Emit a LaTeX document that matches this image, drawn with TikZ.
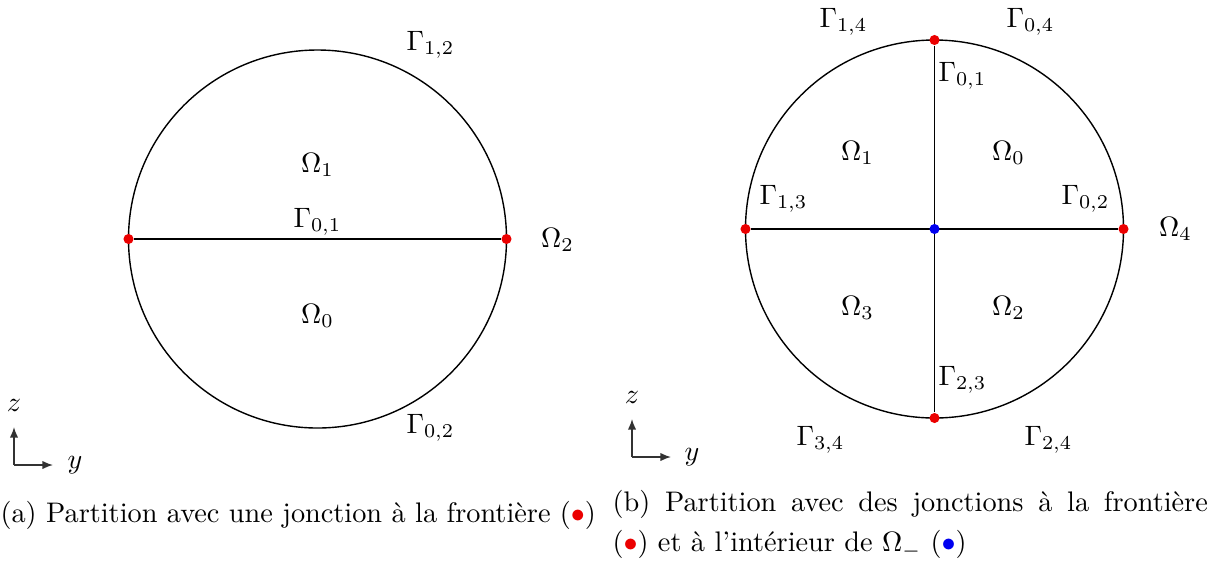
\documentclass[tikz,border=0pt]{standalone}
\usetikzlibrary{positioning, calc, arrows.meta}
\definecolor{junred}{RGB}{235,0,0}
\definecolor{junblue}{RGB}{0,0,240}
\definecolor{axgray}{RGB}{50,50,50}
\newcommand{\capfont}{\fontsize{10.1}{14.3}\selectfont\hyphenpenalty10000\relax}
\tikzset{
  bord/.style={draw=black, line width=0.5pt},
  jred/.style={circle, fill=junred, minimum size=3.6pt, inner sep=0pt},
  jblue/.style={circle, fill=junblue, minimum size=3.6pt, inner sep=0pt},
  lbl/.style={inner sep=1pt},
  axe/.style={axgray, line width=0.5pt, -{Latex[length=3.8pt, width=3pt]}},
  captxt/.style={font=\capfont, inner sep=0pt},
}
\newcommand{\RAY}{189}

\begin{document}
\begin{tikzpicture}[x=0.357pt, y=0.357pt]
\useasboundingbox (0,0) rectangle (1214,561);

% ============================================================ (a) one junction
\begin{scope}[shift={(317.5, 322)}]
  \coordinate (ca) at (0,0);
  \draw[bord] (ca) circle (\RAY);
  \node[jred] (pa1) at (-\RAY, 0) {};
  \node[jred] (pa2) at (\RAY, 0) {};
  \draw[bord] (pa1) -- (pa2);

  \node[lbl] (oa1) at (0, 74) {$\Omega_1$};
  \node[lbl] (ga01) at (0, 17) {$\Gamma_{0,1}$};
  \node[lbl] (oa0) at (0, -77) {$\Omega_0$};
  \node[lbl] (oa2) at (240, -1) {$\Omega_2$};
  \node[lbl] (ga12) at (113, 194) {$\Gamma_{1,2}$};
  \node[lbl] (ga02) at (113, -189) {$\Gamma_{0,2}$};
\end{scope}

% axes (a)
\coordinate (oxa) at (14, 96);
\coordinate (za) at (14, 134);
\coordinate (ya) at (53, 96);
\draw[axe] (oxa) -- (za);
\draw[axe] (oxa) -- (ya);
\node (lza) at (14, 156) {$z$};
\node (lya) at (75, 96) {$y$};

% ============================================================ (b) four sub-domains
\begin{scope}[shift={(934.5, 332)}]
  \coordinate (cb) at (0,0);
  \draw[bord] (cb) circle (\RAY);
  \node[jred] (pbw) at (-\RAY, 0) {};
  \node[jred] (pbe) at (\RAY, 0) {};
  \node[jred] (pbn) at (0, \RAY) {};
  \node[jred] (pbs) at (0, -\RAY) {};
  \draw[bord] (pbw) -- (pbe);
  \draw[bord] (pbn) -- (pbs);
  \node[jblue] (pbc) at (0,0) {};

  \node[lbl] (gb14) at (-91, 207) {$\Gamma_{1,4}$};
  \node[lbl] (gb04) at (96, 207) {$\Gamma_{0,4}$};
  \node[lbl] (gb01) at (28, 153) {$\Gamma_{0,1}$};
  \node[lbl] (ob1) at (-77, 76) {$\Omega_1$};
  \node[lbl] (ob0) at (74, 76) {$\Omega_0$};
  \node[lbl] (gb13) at (-151, 30) {$\Gamma_{1,3}$};
  \node[lbl] (gb02) at (151, 30) {$\Gamma_{0,2}$};
  \node[lbl] (ob4) at (241, 0) {$\Omega_4$};
  \node[lbl] (ob3) at (-77, -79) {$\Omega_3$};
  \node[lbl] (ob2) at (74, -79) {$\Omega_2$};
  \node[lbl] (gb23) at (28, -151) {$\Gamma_{2,3}$};
  \node[lbl] (gb34) at (-114, -211) {$\Gamma_{3,4}$};
  \node[lbl] (gb24) at (114, -211) {$\Gamma_{2,4}$};
\end{scope}

% axes (b)
\coordinate (oxb) at (632, 104);
\coordinate (zb) at (632, 142);
\coordinate (yb) at (671, 104);
\draw[axe] (oxb) -- (zb);
\draw[axe] (oxb) -- (yb);
\node (lzb) at (632, 164) {$z$};
\node (lyb) at (692, 104) {$y$};

% ============================================================ captions
\node[captxt, anchor=west] (capa) at (0, 46)
  {(a) Partition avec une jonction à la frontière (\textcolor{junred}{$\bullet$})};
\node[captxt, anchor=north west, text width=212.5pt, align=justify] (capb) at (612, 71)
  {(b) Partition avec des jonctions à la frontière\linebreak (\textcolor{junred}{$\bullet$}) et à l'intérieur de $\Omega_{-}$ (\textcolor{junblue}{$\bullet$})};

\end{tikzpicture}
\end{document}
